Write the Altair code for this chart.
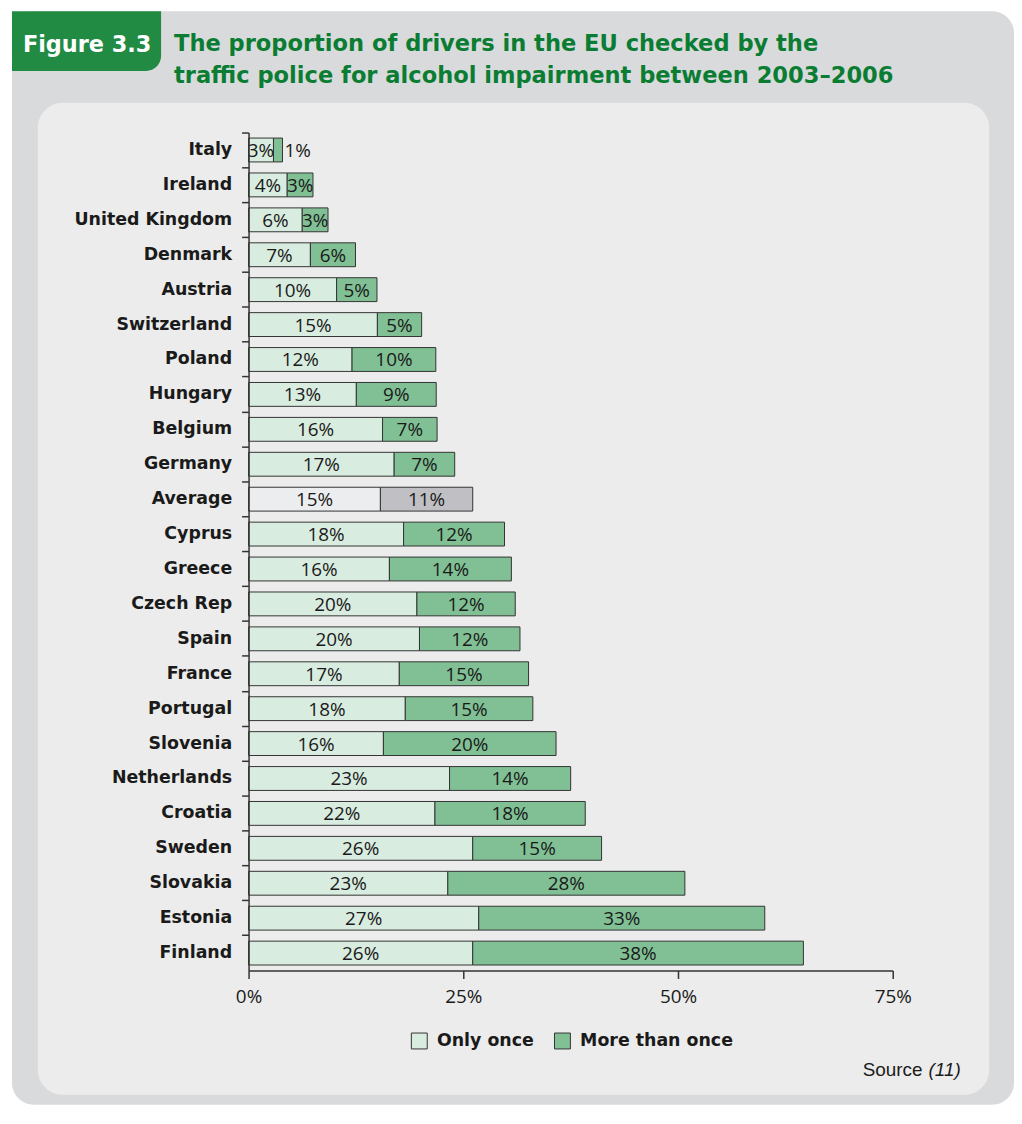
import altair as alt
import pandas as pd

countries = ["Italy", "Ireland", "United Kingdom", "Denmark", "Austria", "Switzerland",
             "Poland", "Hungary", "Belgium", "Germany", "Average", "Cyprus", "Greece",
             "Czech Rep", "Spain", "France", "Portugal", "Slovenia", "Netherlands",
             "Croatia", "Sweden", "Slovakia", "Estonia", "Finland"]
once_values = [2.9, 4.5, 6.25, 7.2, 10.25, 15.0, 12.05, 12.55, 15.6, 16.95, 15.35, 18.05,
               16.4, 19.6, 19.9, 17.55, 18.25, 15.7, 23.4, 21.7, 26.1, 23.2, 26.8, 26.1]
more_values = [1.05, 3.0, 3.0, 5.25, 4.7, 5.15, 9.75, 9.3, 6.35, 7.05, 10.75, 11.75,
               14.2, 11.45, 11.7, 15.05, 14.85, 20.1, 14.1, 17.5, 15.0, 27.6, 33.3, 38.5]
once_labels = ["3%", "4%", "6%", "7%", "10%", "15%", "12%", "13%", "16%", "17%", "15%", "18%",
               "16%", "20%", "20%", "17%", "18%", "16%", "23%", "22%", "26%", "23%", "27%", "26%"]
more_labels = ["1%", "3%", "3%", "6%", "5%", "5%", "10%", "9%", "7%", "7%", "11%", "12%",
               "14%", "12%", "12%", "15%", "15%", "20%", "14%", "18%", "15%", "28%", "33%", "38%"]
x_ticks = [0, 25, 50, 75]

series_keys = ["Only once", "More than once", "Average once", "Average more"]
series_colors = ["#d9ece0", "#80c094", "#ecedee", "#c0c0c4"]

title_line1 = "The proportion of drivers in the EU checked by the"
title_line2 = "traffic police for alcohol impairment between 2003\u20132006"
fig_label = "Figure 3.3"

rows = []
for i, c in enumerate(countries):
    avg = c == "Average"
    o = once_values[i]
    m = more_values[i]
    rows.append(dict(country=c, key="Average once" if avg else "Only once",
                     start=0.0, end=o, label=once_labels[i]))
    rows.append(dict(country=c, key="Average more" if avg else "More than once",
                     start=o, end=o + m, label=more_labels[i]))
df = pd.DataFrame(rows)
df["mid"] = (df["start"] + df["end"]) / 2
df["w"] = df["end"] - df["start"]

dummy = pd.DataFrame({"a": [0]})

BOLD = "DejaVu Sans"

y_axis = alt.Axis(title=None, labelFont=BOLD, labelFontWeight="bold",
                  labelFontSize=17.5, labelColor="#1a1a1a", labelPadding=10,
                  tickSize=7, tickColor="#333333", tickWidth=1.5, bandPosition=0,
                  domainColor="#333333", domainWidth=1.5, zindex=2)
x_axis = alt.Axis(title=None, values=x_ticks, labelExpr="datum.value + '%'",
                  labelFont="Open Sans", labelFontSize=19, labelColor="#1a1a1a",
                  labelFlush=False, labelPadding=9, tickSize=8, tickColor="#333333",
                  tickWidth=1.5, domainColor="#333333", domainWidth=1.5, grid=False,
                  zindex=2)
y_scale = alt.Scale(paddingInner=0, paddingOuter=0)
x_scale = alt.Scale(domain=[0, 75], nice=False)

outer = alt.Chart(dummy).mark_rect(color="#d9dadc", cornerRadius=22).encode(
    x=alt.value(-238), x2=alt.value(770), y=alt.value(-122), y2=alt.value(978))
inner = alt.Chart(dummy).mark_rect(color="#ebeceb", cornerRadius=25).encode(
    x=alt.value(-212), x2=alt.value(745), y=alt.value(-30), y2=alt.value(968))
box = alt.Chart(dummy).mark_rect(color="#218b44", cornerRadiusBottomRight=15).encode(
    x=alt.value(-238), x2=alt.value(-88), y=alt.value(-122), y2=alt.value(-62))
fig_text = alt.Chart(dummy).mark_text(
    text=fig_label, font=BOLD, fontWeight="bold", fontSize=22.5,
    color="white", align="left", baseline="alphabetic").encode(
    x=alt.value(-227), y=alt.value(-81))
t1 = alt.Chart(dummy).mark_text(
    text=title_line1, font=BOLD, fontWeight="bold", fontSize=22.7,
    color="#0a7d33", align="left", baseline="alphabetic").encode(
    x=alt.value(-75), y=alt.value(-82))
t2 = alt.Chart(dummy).mark_text(
    text=title_line2, font=BOLD, fontWeight="bold", fontSize=22.7,
    color="#0a7d33", align="left", baseline="alphabetic").encode(
    x=alt.value(-75), y=alt.value(-50))
src1 = alt.Chart(dummy).mark_text(
    text="Source", font="Liberation Sans", fontSize=19, color="#1a1a1a",
    align="right", baseline="alphabetic").encode(x=alt.value(678), y=alt.value(949))
src2 = alt.Chart(dummy).mark_text(
    text="(11)", font="Liberation Sans", fontStyle="italic", fontSize=19, color="#1a1a1a",
    align="left", baseline="alphabetic").encode(x=alt.value(684), y=alt.value(949))

bars = alt.Chart(df).mark_bar(height=24, stroke="#333333", strokeWidth=1).encode(
    y=alt.Y("country:N", sort=countries, scale=y_scale, axis=y_axis),
    x=alt.X("start:Q", scale=x_scale, axis=x_axis),
    x2="end:Q",
    color=alt.Color("key:N", scale=alt.Scale(domain=series_keys, range=series_colors),
                    legend=alt.Legend(values=["Only once", "More than once"], title=None,
                                      orient="none", legendX=163, legendY=905,
                                      direction="horizontal", symbolType="square",
                                      symbolSize=256, symbolStrokeColor="#333333",
                                      symbolStrokeWidth=1, symbolOpacity=1,
                                      labelFont=BOLD, labelFontWeight="bold",
                                      labelFontSize=17.5, labelColor="#1a1a1a",
                                      labelOffset=9, columnPadding=17, padding=0)),
)

labels_in = alt.Chart(df).transform_filter("datum.w >= 2").mark_text(
    font="Open Sans", fontSize=19, color="#1a1a1a", baseline="middle", dy=1).encode(
    y=alt.Y("country:N", sort=countries, scale=y_scale, axis=y_axis),
    x=alt.X("mid:Q", scale=x_scale, axis=x_axis),
    text="label:N")
labels_out = alt.Chart(df).transform_filter("datum.w < 2").mark_text(
    font="Open Sans", fontSize=19, color="#1a1a1a", baseline="middle", align="left",
    dx=2, dy=1).encode(
    y=alt.Y("country:N", sort=countries, scale=y_scale, axis=y_axis),
    x=alt.X("end:Q", scale=x_scale, axis=x_axis),
    text="label:N")

chart = alt.layer(outer, inner, box, fig_text, t1, t2, src1, src2,
                  bars, labels_in, labels_out).properties(
    width=648, height=843,
    padding={"left": 242, "top": 122, "right": 122, "bottom": 135},
    autosize=alt.AutoSizeParams(type="none"),
).configure_view(stroke=None).configure(background="white")

chart.save("out.html", embed_options={"renderer": "svg", "actions": False})
